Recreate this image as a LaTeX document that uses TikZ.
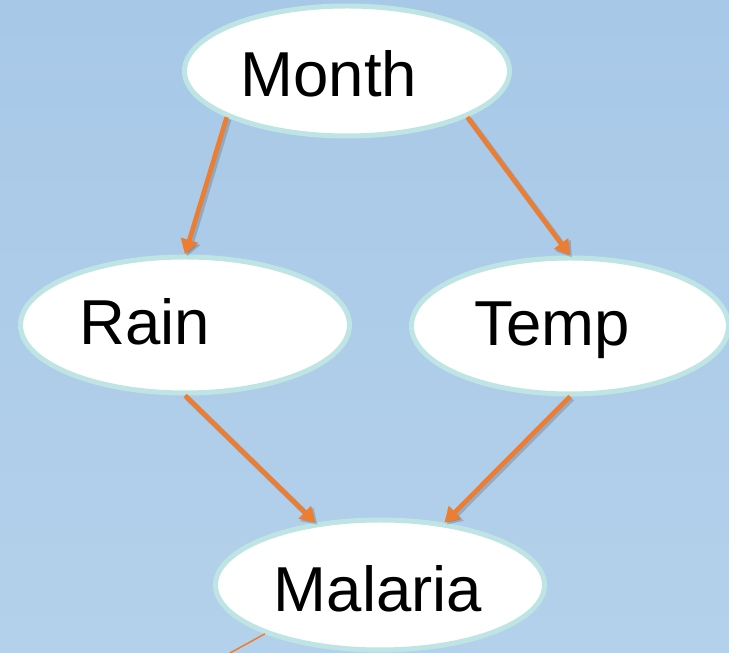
\documentclass[tikz,border=0pt]{standalone}
\usepackage{fontspec}
\setmainfont{Liberation Sans}
\usetikzlibrary{shapes.geometric,arrows.meta,calc}
\definecolor{bgtop}{RGB}{167,200,231}
\definecolor{bgbot}{RGB}{180,209,235}
\definecolor{rim}{RGB}{190,228,228}
\definecolor{arrowc}{RGB}{237,125,49}
\tikzset{
  var/.style={ellipse, draw=rim, line width=5pt, fill=white, inner sep=0pt},
  lbl/.style={anchor=base, inner sep=0pt, font=\fontsize{63.5}{70}\selectfont},
  link/.style={draw=arrowc, line width=4.6pt, -{Triangle[length=15pt,width=17pt]}},
  linkshadow/.style={draw=black, opacity=0.16, line width=5.5pt, -{Triangle[length=15pt,width=18pt]}},
}
\begin{document}
\begin{tikzpicture}[x=1pt,y=1pt]
  % page and background
  \shade[top color=bgtop, bottom color=bgbot] (0,0) rectangle (729,653);
  \useasboundingbox (0,0) rectangle (729,653);

  % variables
  \node[var, minimum width=325pt, minimum height=130pt] (month) at (347,582) {};
  \node[var, minimum width=329pt, minimum height=136pt] (rain) at (185,328) {};
  \node[var, minimum width=317pt, minimum height=136pt] (temp) at (570,327) {};
  \node[var, minimum width=329pt, minimum height=130pt] (malaria) at (380,68) {};

  \node[lbl] (monthtxt) at (329,556) {Month};
  \node[lbl] (raintxt) at (145,308) {Rain};
  \node[lbl] (temptxt) at (552,307) {Temp};
  \node[lbl] (malariatxt) at (378,41) {Malaria};

  % dependencies (soft shadow first, then the arrow)
  \foreach \a/\b in {month.201/rain.north, month.339/temp.north,
                     rain.south/malaria.136, temp.south/malaria.44} {
    \draw[linkshadow, transform canvas={shift={(2pt,-2pt)}}] (\a) -- (\b);
    \draw[link] (\a) -- (\b);
  }

  % outgoing link leaving the picture
  \coordinate (exit) at (230,0);
  \draw[draw=arrowc, line width=1.5pt] (malaria.203) -- (exit);
\end{tikzpicture}
\end{document}
